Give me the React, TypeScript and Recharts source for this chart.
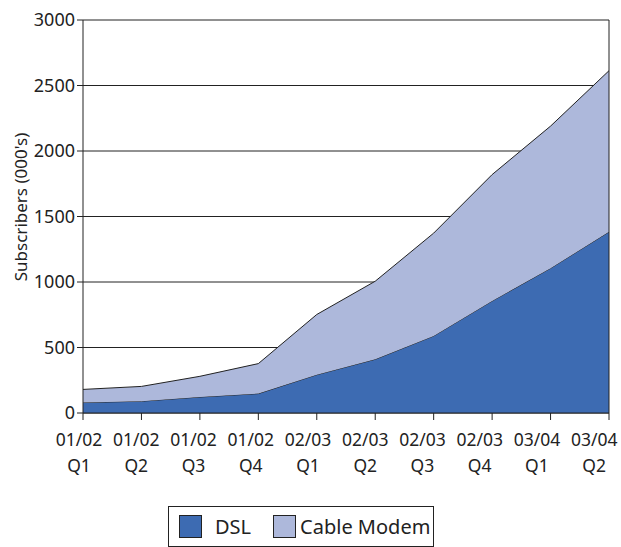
import {
  Area,
  AreaChart,
  CartesianGrid,
  ReferenceLine,
  XAxis,
  YAxis,
} from "recharts";

const periodos = ["01/02", "01/02", "01/02", "01/02", "02/03", "02/03", "02/03", "02/03", "03/04", "03/04"];
const trimestres = ["Q1", "Q2", "Q3", "Q4", "Q1", "Q2", "Q3", "Q4", "Q1", "Q2"];
const dsl = [80, 90, 122, 148, 292, 410, 588, 855, 1105, 1383];
const cable = [100, 113, 158, 229, 460, 596, 785, 965, 1085, 1230];
const ticksY = [0, 500, 1000, 1500, 2000, 2500, 3000];

const datos = periodos.map((p, i) => ({
  clave: `${p} ${trimestres[i]}`,
  periodo: p,
  trimestre: trimestres[i],
  dsl: dsl[i],
  cable: cable[i],
}));

const FUENTE = "'Noto Sans', 'Open Sans', sans-serif";
const TINTA = "#222";
const AZUL = "#3d6bb2";
const CELESTE = "#adb8db";

function TickX({ x = 0, y = 0, index = 0 }: { x?: number; y?: number; index?: number }) {
  const d = datos[index];
  // las etiquetas quedan algo a la izquierda de cada marca, más hacia el final
  const cx = x - 4 - 1.2 * index;
  return (
    <text x={cx} y={y} textAnchor="middle" fill={TINTA} fontSize={17.5} fontFamily={FUENTE}>
      <tspan x={cx} dy={24}>{d.periodo}</tspan>
      <tspan x={cx} dy={26}>{d.trimestre}</tspan>
    </text>
  );
}

function Leyenda() {
  const cuadro = (color: string) => (
    <div
      style={{
        width: 23,
        height: 23,
        background: color,
        border: `1px solid ${TINTA}`,
        boxSizing: "border-box",
      }}
    />
  );
  return (
    <div
      style={{
        position: "absolute",
        left: 168,
        top: 506,
        width: 266,
        height: 41,
        border: `1px solid ${TINTA}`,
        boxSizing: "border-box",
        display: "flex",
        alignItems: "center",
        paddingLeft: 10,
        fontFamily: FUENTE,
        fontSize: 20,
        color: TINTA,
      }}
    >
      {cuadro(AZUL)}
      <span style={{ marginLeft: 13, marginRight: 22 }}>DSL</span>
      {cuadro(CELESTE)}
      <span style={{ marginLeft: 4 }}>Cable Modem</span>
    </div>
  );
}

export default function App() {
  return (
    <div style={{ position: "fixed", left: 0, top: 0, width: 621, height: 547, background: "#fff" }}>
      <AreaChart
        width={621}
        height={547}
        data={datos}
        margin={{ top: 20, right: 12, left: 0, bottom: 0 }}
      >
        <CartesianGrid vertical={false} stroke={TINTA} strokeWidth={1} />
        <XAxis
          dataKey="clave"
          height={134}
          tickSize={7}
          interval={0}
          stroke={TINTA}
          tick={<TickX />}
        />
        <YAxis
          domain={[0, 3000]}
          ticks={ticksY}
          width={83}
          tickSize={6}
          stroke={TINTA}
          tick={{ fill: TINTA, fontSize: 18, fontFamily: FUENTE }}
          label={() => (
            <text
              x={20}
              y={207}
              transform="rotate(-90 20 207)"
              textAnchor="middle"
              dominantBaseline="central"
              fill={TINTA}
              fontSize={17}
              fontFamily={FUENTE}
            >
              Subscribers (000's)
            </text>
          )}
        />
        <Area
          type="linear"
          dataKey="dsl"
          stackId="1"
          fill={AZUL}
          fillOpacity={1}
          stroke={TINTA}
          strokeWidth={1}
          isAnimationActive={false}
        />
        <Area
          type="linear"
          dataKey="cable"
          stackId="1"
          fill={CELESTE}
          fillOpacity={1}
          stroke={TINTA}
          strokeWidth={1}
          isAnimationActive={false}
        />
        <ReferenceLine x={datos[datos.length - 1].clave} stroke={TINTA} strokeWidth={1} />
      </AreaChart>
      <Leyenda />
    </div>
  );
}
